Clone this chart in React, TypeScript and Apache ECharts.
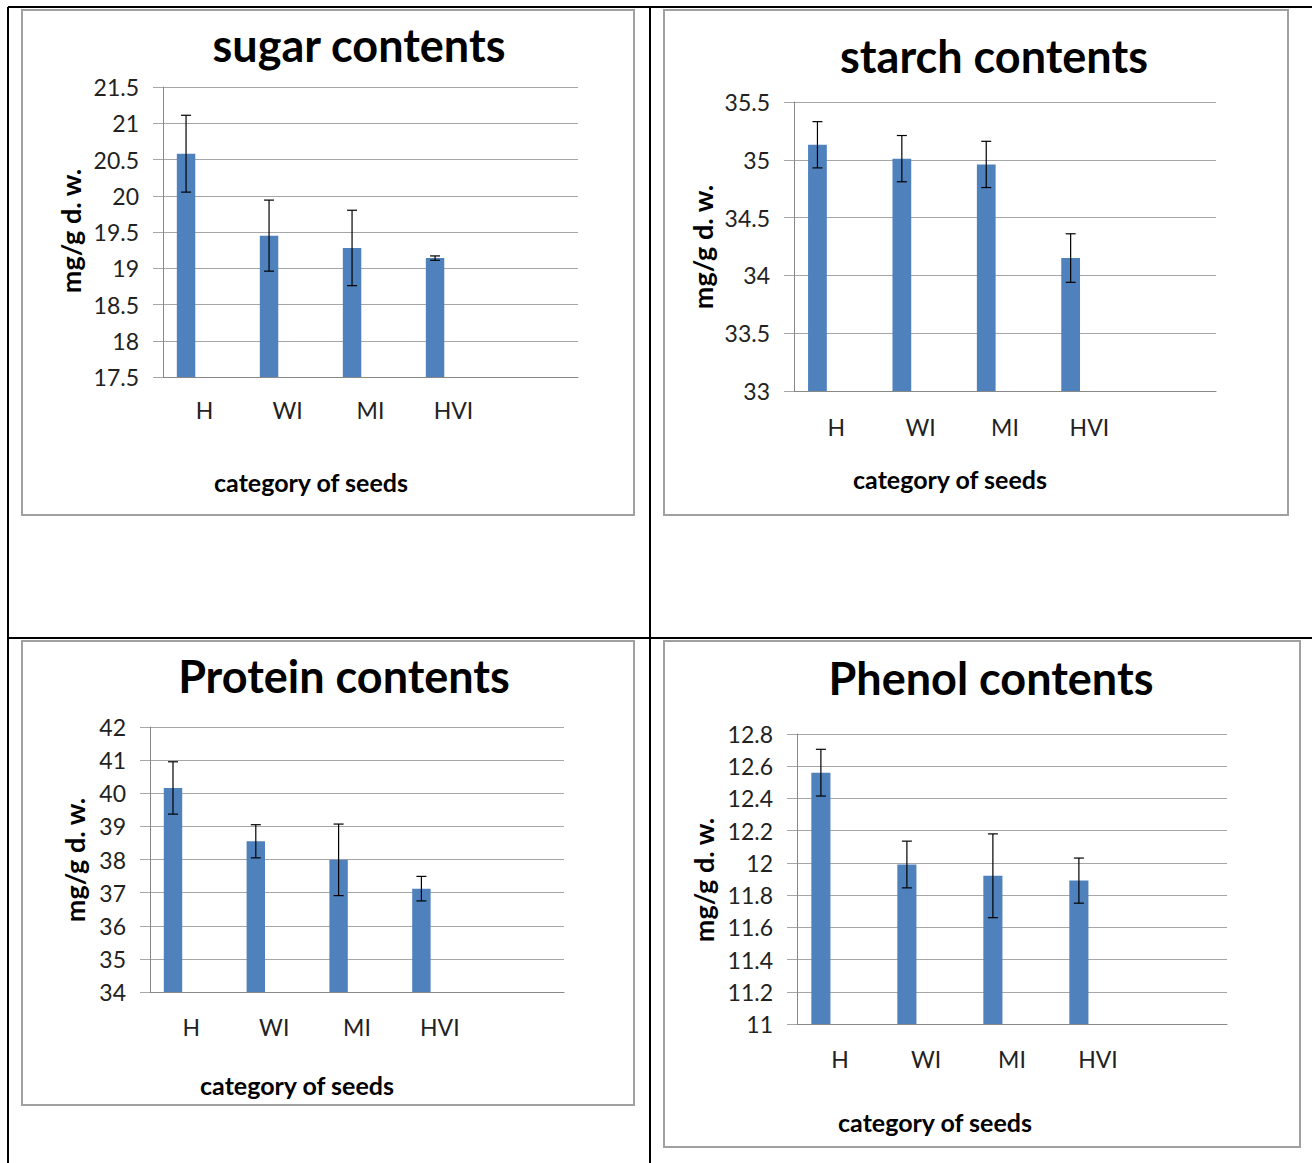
import React, { useEffect, useRef } from "react";
import * as echarts from "echarts";

const categories = ["H", "WI", "MI", "HVI", ""];

const sugarMeans = [20.58, 19.45, 19.28, 19.14];
const sugarErr = [0.53, 0.49, 0.52, 0.03];
const sugarTicks = { min: 17.5, max: 21.5, interval: 0.5 };

const starchMeans = [35.13, 35.01, 34.96, 34.15];
const starchErr = [0.2, 0.2, 0.2, 0.21];
const starchTicks = { min: 33, max: 35.5, interval: 0.5 };

const proteinMeans = [40.16, 38.55, 37.99, 37.12];
const proteinErr = [0.79, 0.5, 1.08, 0.37];
const proteinTicks = { min: 34, max: 42, interval: 1 };

const phenolMeans = [12.56, 11.99, 11.92, 11.89];
const phenolErr = [0.145, 0.145, 0.26, 0.14];
const phenolTicks = { min: 11, max: 12.8, interval: 0.2 };

const emptySeries = [null, null, null, null, null];

const titles = ["sugar contents", "starch contents", "Protein contents", "Phenol contents"];
const yName = "mg/g d. w.";
const xName = "category of seeds";

const FONT = "Lato";
const BAR = "#4F81BD";
const GRID = "#a6a6a6";

export default function App() {
  const ref = useRef<HTMLDivElement>(null);
  useEffect(() => {
    if (!ref.current) return;
    const chart = echarts.init(ref.current, undefined, { renderer: "svg" });

    const panels = [
      { means: sugarMeans, err: sugarErr, ticks: sugarTicks, grid: { left: 163, top: 87, width: 415, height: 290 },
        box: [22, 10, 612, 505], title: [359, 45], yn: [70, 231], xn: [311, 482], xm: 21 },
      { means: starchMeans, err: starchErr, ticks: starchTicks, grid: { left: 794, top: 102, width: 422, height: 289 },
        box: [664, 10, 624, 505], title: [994, 56], yn: [702, 247], xn: [950, 479], xm: 24 },
      { means: proteinMeans, err: proteinErr, ticks: proteinTicks, grid: { left: 150, top: 727, width: 414, height: 265 },
        box: [22, 641, 612, 464], title: [344, 676], yn: [74, 860], xn: [297, 1085], xm: 23 },
      { means: phenolMeans, err: phenolErr, ticks: phenolTicks, grid: { left: 797, top: 734, width: 430, height: 290 },
        box: [664, 641, 636, 506], title: [991, 678], yn: [703, 880], xn: [935, 1122], xm: 23 },
    ];

    const grids: any[] = [];
    const xAxes: any[] = [];
    const yAxes: any[] = [];
    const series: any[] = [];
    const graphics: any[] = [];

    // table lines
    const black = { stroke: "#000", lineWidth: 2 };
    graphics.push({ type: "line", shape: { x1: 8, y1: 7, x2: 1312, y2: 7 }, style: black });
    graphics.push({ type: "line", shape: { x1: 8, y1: 7, x2: 8, y2: 1163 }, style: black });
    graphics.push({ type: "line", shape: { x1: 650, y1: 7, x2: 650, y2: 1163 }, style: black });
    graphics.push({ type: "line", shape: { x1: 8, y1: 638, x2: 1312, y2: 638 }, style: black });

    panels.forEach((p, k) => {
      grids.push({ ...p.grid, containLabel: false });
      xAxes.push({
        type: "category", gridIndex: k, data: categories,
        axisLine: { lineStyle: { color: "#888", width: 1 } },
        axisTick: { show: false },
        axisLabel: { color: "#222", fontFamily: FONT, fontSize: 23, margin: p.xm },
      });
      yAxes.push({
        type: "value", gridIndex: k, min: p.ticks.min, max: p.ticks.max, interval: p.ticks.interval,
        axisLine: { show: true, lineStyle: { color: "#888", width: 1 } },
        axisTick: { show: true, length: 10, lineStyle: { color: GRID } },
        splitLine: { lineStyle: { color: GRID, width: 1.2 } },
        axisLabel: {
          color: "#222", fontFamily: FONT, fontSize: 23, margin: 24,
          formatter: (v: number) => String(+v.toFixed(1)),
        },
      });
      series.push({
        type: "bar", name: titles[k], xAxisIndex: k, yAxisIndex: k, data: p.means,
        itemStyle: { color: BAR }, barCategoryGap: "33.33%", barGap: "0%",
      });
      series.push({ type: "bar", name: "blank A", xAxisIndex: k, yAxisIndex: k, data: emptySeries, barGap: "0%", barCategoryGap: "33.33%" });
      series.push({ type: "bar", name: "blank B", xAxisIndex: k, yAxisIndex: k, data: emptySeries, barGap: "0%", barCategoryGap: "33.33%" });
      series.push({
        type: "custom", name: "error", xAxisIndex: k, yAxisIndex: k, z: 5,
        data: p.means.map((m, i) => [i, m, p.err[i]]),
        encode: { x: 0, y: 1 },
        renderItem: (params: any, api: any) => {
          const i = api.value(0);
          const m = api.value(1);
          const e = api.value(2);
          const band = api.size([1, 0])[0];
          const off = -band / 4.5;
          const t = api.coord([i, m + e]);
          const b = api.coord([i, m - e]);
          const x = t[0] + off;
          const cap = 5;
          const st = { stroke: "#000", lineWidth: 1.2 };
          return {
            type: "group",
            children: [
              { type: "line", shape: { x1: x, y1: t[1], x2: x, y2: b[1] }, style: st },
              { type: "line", shape: { x1: x - cap, y1: t[1], x2: x + cap, y2: t[1] }, style: st },
              { type: "line", shape: { x1: x - cap, y1: b[1], x2: x + cap, y2: b[1] }, style: st },
            ],
          };
        },
      });

      graphics.push({
        type: "rect", shape: { x: p.box[0], y: p.box[1], width: p.box[2], height: p.box[3] },
        style: { fill: "none", stroke: "#a0a0a0", lineWidth: 2 }, z: 0,
      });
      graphics.push({
        type: "text", x: p.title[0], y: p.title[1],
        style: { text: titles[k], fill: "#000", font: `bold 45px ${FONT}`, align: "center", verticalAlign: "middle" },
      });
      graphics.push({
        type: "text", x: p.yn[0], y: p.yn[1], rotation: Math.PI / 2,
        style: { text: yName, fill: "#000", font: `bold 27px ${FONT}`, align: "center", verticalAlign: "middle" },
      });
      graphics.push({
        type: "text", x: p.xn[0], y: p.xn[1],
        style: { text: xName, fill: "#000", font: `bold 25px ${FONT}`, align: "center", verticalAlign: "middle" },
      });
    });

    chart.setOption({
      animation: false,
      backgroundColor: "#fff",
      grid: grids,
      xAxis: xAxes,
      yAxis: yAxes,
      series,
      graphic: graphics,
    });
    return () => chart.dispose();
  }, []);

  return <div ref={ref} style={{ position: "absolute", left: 0, top: 0, width: 1312, height: 1163 }} />;
}
